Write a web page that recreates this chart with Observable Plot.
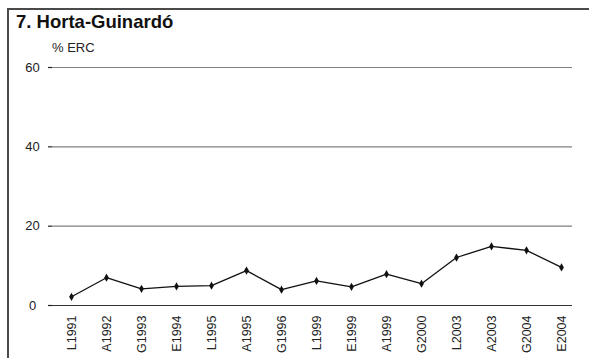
<!DOCTYPE html>
<html>
<head>
<meta charset="utf-8">
<script src="https://cdn.jsdelivr.net/npm/d3@7"></script>
<script src="https://cdn.jsdelivr.net/npm/@observablehq/plot@0.6"></script>
<style>
  html, body { margin: 0; padding: 0; background: #fff; }
  body { width: 589px; height: 358px; position: relative; overflow: hidden; font-family: "Liberation Sans", Arial, sans-serif; }
  #frame { position: absolute; left: 7px; top: 8px; width: 582px; height: 350px; box-sizing: border-box; border-left: 2px solid #4a4a4a; border-top: 2px solid #4a4a4a; z-index: 5; pointer-events: none; }
  #title { position: absolute; left: 16px; top: 11px; font-size: 18.5px; font-weight: bold; color: #111; z-index: 6; }
  #sub { position: absolute; left: 52px; top: 40px; font-size: 13px; color: #222; z-index: 6; }
  #chart { position: absolute; left: 0; top: 0; }
</style>
</head>
<body>
<div id="chart"></div>
<div id="frame"></div>
<div id="title">7. Horta-Guinardó</div>
<div id="sub">% ERC</div>
<script>
const categories = ["L1991","A1992","G1993","E1994","L1995","A1995","G1996","L1999","E1999","A1999","G2000","L2003","A2003","G2004","E2004"];
const values = [2.2, 7.0, 4.2, 4.8, 5.0, 8.8, 4.0, 6.2, 4.7, 7.9, 5.5, 12.1, 14.9, 13.9, 9.6];
const yTicks = [0, 20, 40, 60];

const data = categories.map((c, i) => ({cat: c, v: values[i]}));

const chart = Plot.plot({
  width: 589,
  height: 358,
  marginTop: 67,
  marginBottom: 53,
  marginLeft: 52,
  marginRight: 17,
  style: {fontFamily: "'Liberation Sans', Arial, sans-serif", fontSize: "12px", background: "transparent", color: "#222"},
  x: {type: "point", domain: categories, padding: 0, insetLeft: 16, insetRight: 9, label: null},
  y: {domain: [0, 60], label: null},
  marks: [
    Plot.ruleY(yTicks.filter(d => d > 0), {stroke: "#808080", strokeWidth: 1.2}),
    Plot.ruleY([0], {stroke: "#333", strokeWidth: 1.2}),
    Plot.axisY({ticks: yTicks, tickSize: 4, tickFormat: () => "", line: true, stroke: "#222", strokeWidth: 1.2, label: null}),
    Plot.text(yTicks, {y: d => d, frameAnchor: "left", dx: -20, textAnchor: "middle", text: d => String(d), fontSize: 13, fill: "#222"}),
    Plot.axisX({tickSize: 0, tickRotate: -90, tickPadding: 10, fontSize: 12.5, fill: "#222", label: null}),
    Plot.line(data, {x: "cat", y: "v", stroke: "#111", strokeWidth: 1.3}),
    Plot.dot(data, {x: "cat", y: "v", symbol: "diamond", r: 2.5, fill: "#111", stroke: "none"})
  ]
});
document.getElementById("chart").appendChild(chart);
</script>
</body>
</html>
